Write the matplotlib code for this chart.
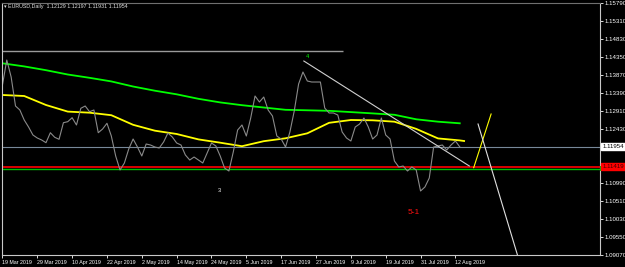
import matplotlib.pyplot as plt
import matplotlib.transforms as mtransforms
from matplotlib.patches import Rectangle

plt.rcParams['font.family'] = ['Liberation Sans', 'DejaVu Sans']

# daily closes EURUSD, 19 Mar 2019 .. 14 Aug 2019 (one per bar)
close = [1.13603, 1.14270, 1.13817, 1.13043, 1.12937, 1.12670, 1.12483, 1.12270, 1.12190, 1.12137,
         1.12065, 1.12331, 1.12209, 1.12155, 1.12598, 1.12625, 1.12731, 1.12537, 1.12982, 1.13043,
         1.12891, 1.12937, 1.12331, 1.12430, 1.12582, 1.12243, 1.11710, 1.11337, 1.11523, 1.11897,
         1.12163, 1.11950, 1.11710, 1.12030, 1.12003, 1.11950, 1.11923, 1.12083, 1.12323, 1.12217,
         1.12057, 1.12003, 1.11737, 1.11603, 1.11683, 1.11603, 1.11523, 1.11790, 1.12057, 1.11977,
         1.11710, 1.11390, 1.11310, 1.11817, 1.12403, 1.12537, 1.12243, 1.12723, 1.13310, 1.13150,
         1.13283, 1.12937, 1.12777, 1.12243, 1.12163, 1.11950, 1.12350, 1.12910, 1.13630, 1.13950,
         1.13710, 1.13683, 1.13683, 1.13683, 1.12990, 1.12857, 1.12857, 1.12803, 1.12350, 1.12190,
         1.12110, 1.12483, 1.12563, 1.12723, 1.12483, 1.12163, 1.12270, 1.12723, 1.12270, 1.12163,
         1.11577, 1.11417, 1.11443, 1.11310, 1.11417, 1.11337, 1.10777, 1.10883, 1.11123, 1.11950,
         1.11977, 1.12003, 1.11870, 1.12003, 1.12110, 1.11954]

# moving averages read every 5 bars
ma_bars = [0, 5, 10, 15, 20, 25, 30, 35, 40, 45, 50, 55, 60, 65, 70, 75, 80, 85, 90, 95, 100, 105, 106]
ma_fast = [1.13337, 1.13310, 1.13070, 1.12894, 1.12865, 1.12798, 1.12542, 1.12385, 1.12297, 1.12153,
           1.12065, 1.11971, 1.12105, 1.12182, 1.12315, 1.12595, 1.12670, 1.12662, 1.12625, 1.12433,
           1.12179, 1.12126, 1.12110]
ma_slow = [1.14182, 1.14099, 1.13998, 1.13883, 1.13795, 1.13699, 1.13563, 1.13451, 1.13355, 1.13235,
           1.13139, 1.13065, 1.13003, 1.12942, 1.12929, 1.12915, 1.12881, 1.12846, 1.12809, 1.12689,
           1.12625, 1.12582]

date_bars = [0, 8, 16, 24, 32, 40, 48, 56, 64, 72, 80, 88, 96, 104]
date_labels = ["19 Mar 2019", "29 Mar 2019", "10 Apr 2019", "22 Apr 2019", "2 May 2019",
               "14 May 2019", "24 May 2019", "5 Jun 2019", "17 Jun 2019", "27 Jun 2019",
               "9 Jul 2019", "19 Jul 2019", "31 Jul 2019", "12 Aug 2019"]
price_ticks = [1.15790 - k * 0.0048 for k in range(15)]
hidden_ticks = [8, 9]   # covered by the price boxes

bid = 1.11954
red_level = 1.11419
green_level = 1.11371
top_level = 1.14510
top_level_end = 78.1

trend_x = [69.2, 107.2]
trend_y = [1.14243, 1.11443]
up_x = [108.2, 112.2]
up_y = [1.11398, 1.12830]
down_x = [109.2, 119.0]
down_y = [1.12563, 1.0878]

fig = plt.figure(figsize=(6.25, 2.67), dpi=100, facecolor='black')
ax = fig.add_axes([2 / 625, 12 / 267, 598 / 625, 252 / 267])
ax.set_facecolor('black')
ax.set_xlim(-0.1, 137.2)
ax.set_ylim(1.0907, 1.1579)

for s in ax.spines.values():
    s.set_color('#c8c8c8')
    s.set_linewidth(0.8)
ax.spines['top'].set_color('#707070')

ax.hlines(top_level, -0.1, top_level_end, color='#9a9a9a', lw=1.0)
ax.axhline(bid, color='#778899', lw=0.8)
ax.axhline(green_level, color='#00c000', lw=1.0)
ax.axhline(red_level, color='#ff0000', lw=1.2)

ax.plot(ma_bars[:len(ma_slow)], ma_slow, color='#00ff00', lw=1.3)
ax.plot(ma_bars, ma_fast, color='#ffff00', lw=1.3)
ax.plot(range(len(close)), close, color='#8a8a8a', lw=0.8)

ax.plot(trend_x, trend_y, color='#d0d0d0', lw=0.8)
ax.plot(up_x, up_y, color='#ffff00', lw=0.8)
ax.plot(down_x, down_y, color='#e0e0e0', lw=0.8)

ax.text(70, 1.14297, "4", color='#00ff00', fontsize=4, ha='center', va='bottom')
ax.text(49.9, 1.10803, "3", color='white', fontsize=4, ha='center', va='center')
ax.text(94.4, 1.10190, "5-1", color='#ff1010', fontsize=6, ha='center', va='center')

ax.yaxis.tick_right()
ax.set_yticks(price_ticks)
ax.set_yticklabels(["" if k in hidden_ticks else "%.5f" % p for k, p in enumerate(price_ticks)])
ax.tick_params(axis='y', colors='white', labelsize=4.4, length=2, pad=1, width=0.6)
ax.set_xticks(date_bars)
ax.set_xticklabels(date_labels, ha='left')
ax.tick_params(axis='x', colors='white', labelsize=3.8, length=2, pad=1.5, width=0.6)

tr = mtransforms.blended_transform_factory(ax.transAxes, ax.transData)
# green level box, mostly hidden under the red one
ax.add_patch(Rectangle((1.0, green_level - 0.0006), 0.04, 0.0012, transform=tr,
                       fc='#00c000', ec='none', clip_on=False, zorder=5))
ax.text(1.004, red_level, "1.11419", transform=tr, fontsize=4.4, color='#400000',
        va='center', ha='left', clip_on=False, zorder=6,
        bbox=dict(boxstyle='square,pad=0.15', fc='#ff0000', ec='#ff0000'))
ax.text(1.004, bid, "1.11954", transform=tr, fontsize=4.4, color='black',
        va='center', ha='left', clip_on=False, zorder=6,
        bbox=dict(boxstyle='square,pad=0.15', fc='white', ec='white'))

fig.text(4 / 625, 1 - 6.5 / 267, "\u25be EURUSD,Daily  1.12129 1.12197 1.11931 1.11954",
         color='#e0e0e0', fontsize=3.8, va='center', ha='left')

fig.savefig("out.png", dpi=100, facecolor='black')
